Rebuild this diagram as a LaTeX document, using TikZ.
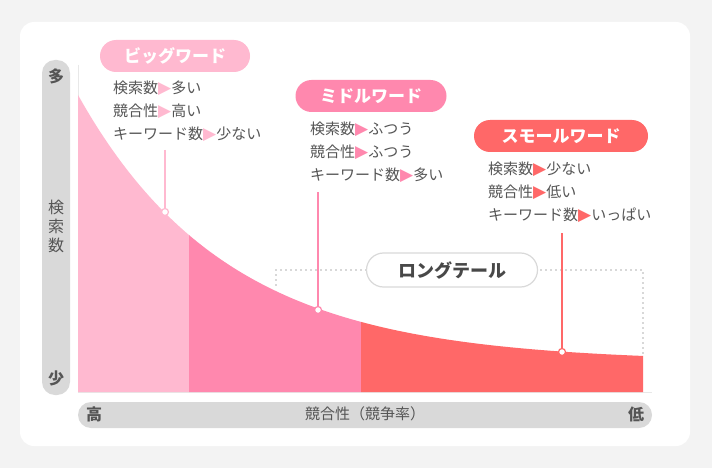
\documentclass[tikz,border=0pt]{standalone}
\usepackage{fontspec}
\setmainfont{Noto Sans CJK JP}
\newfontfamily\djv{DejaVu Sans}
\definecolor{pkA}{HTML}{FFB9D0}
\definecolor{pkB}{HTML}{FF88AE}
\definecolor{pkC}{HTML}{FF6868}
\definecolor{txt}{HTML}{555555}
\definecolor{axg}{HTML}{D9D9D9}
\definecolor{bgg}{HTML}{F3F3F3}
\newcommand{\tri}[1]{{\djv\fontsize{17}{14}\selectfont\color{#1}\raisebox{-0.5pt}{▶}}}
\begin{document}
\begin{tikzpicture}[x=1pt,y=-1pt,
  pill/.style={rounded corners=16pt,text=white,font=\bfseries\fontsize{17}{17}\selectfont,inner sep=0pt},
  item/.style={anchor=west,text=txt,font=\fontsize{15}{16}\selectfont,inner sep=0pt},
  dot/.style={circle,fill=white,draw,line width=1.2pt,inner sep=0pt,minimum size=7pt}]
\fill[bgg] (0,0) rectangle (712,468);
\useasboundingbox (0,0) rectangle (712,468);
\fill[white,rounded corners=14pt] (20,22) rectangle (690,446);
% axes bars
\fill[axg,rounded corners=13pt] (42,60) rectangle (70,395);
\fill[axg,rounded corners=13pt] (78,402) rectangle (652,428);
\draw[axg!60,line width=1pt] (78,65) -- (78,392) -- (652,392);
\node[text=txt,font=\bfseries\fontsize{16}{16}\selectfont] (ymax) at (56,76) {多};
\node[text=txt,font=\bfseries\fontsize{16}{16}\selectfont] (ymin) at (56,378) {少};
\node[text=txt,font=\fontsize{16}{19}\selectfont,align=center] (ylab) at (56,226) {検\\索\\数};
\node[text=txt,font=\bfseries\fontsize{16}{16}\selectfont] (xmax) at (94,414) {高};
\node[text=txt,font=\bfseries\fontsize{16}{16}\selectfont] (xmin) at (636,414) {低};
\node[text=txt,font=\fontsize{15}{16}\selectfont] (xlab) at (365,414) {競合性（競争率）};
% regions
\fill[pkA] (78,392) -- plot[domain=78:189,samples=40] (\x,{362-267*exp(-0.0067*(\x-78))}) -- (189,392) -- cycle;
\fill[pkB] (189,392) -- plot[domain=189:361,samples=40] (\x,{362-267*exp(-0.0067*(\x-78))}) -- (361,392) -- cycle;
\fill[pkC] (361,392) -- plot[domain=361:643,samples=50] (\x,{362-267*exp(-0.0067*(\x-78))}) -- (643,392) -- cycle;
% long tail
\draw[black!30,line width=1.8pt,dash pattern=on 0pt off 5pt,line cap=round] (276,285) -- (276,270) -- (643,270) -- (643,356);
\node[draw=axg,line width=1.2pt,fill=white,rounded corners=17pt,minimum width=171pt,minimum height=34pt,text=txt!85!black,font=\bfseries\fontsize{18}{18}\selectfont] (lt) at (452,270) {ロングテール};
% big
\node[pill,fill=pkA,minimum width=150pt,minimum height=32pt] (big) at (175,56) {ビッグワード};
\node[item] (b1) at (113,88) {検索数\tri{pkA}多い};
\node[item] (b2) at (113,111) {競合性\tri{pkA}高い};
\node[item] (b3) at (113,134) {キーワード数\tri{pkA}少ない};
\coordinate (bt) at (165,150);
\node[dot,draw=pkA] (bd) at (165,212) {};
\draw[pkA,line width=1.5pt] (bt) -- (bd);
% middle
\node[pill,fill=pkB,minimum width=151pt,minimum height=32pt] (mid) at (371,96) {ミドルワード};
\node[item] (m1) at (310,129) {検索数\tri{pkB}ふつう};
\node[item] (m2) at (310,152) {競合性\tri{pkB}ふつう};
\node[item] (m3) at (310,175) {キーワード数\tri{pkB}多い};
\coordinate (mt) at (318,192);
\node[dot,draw=pkB] (md) at (318,310) {};
\draw[pkB,line width=1.5pt] (mt) -- (md);
% small
\node[pill,fill=pkC,minimum width=174pt,minimum height=32pt] (sml) at (561,136) {スモールワード};
\node[item] (s1) at (488,169) {検索数\tri{pkC}少ない};
\node[item] (s2) at (488,192) {競合性\tri{pkC}低い};
\node[item] (s3) at (488,215) {キーワード数\tri{pkC}いっぱい};
\coordinate (st) at (562,233);
\node[dot,draw=pkC] (sd) at (562,352) {};
\draw[pkC,line width=1.5pt] (st) -- (sd);
\end{tikzpicture}
\end{document}
